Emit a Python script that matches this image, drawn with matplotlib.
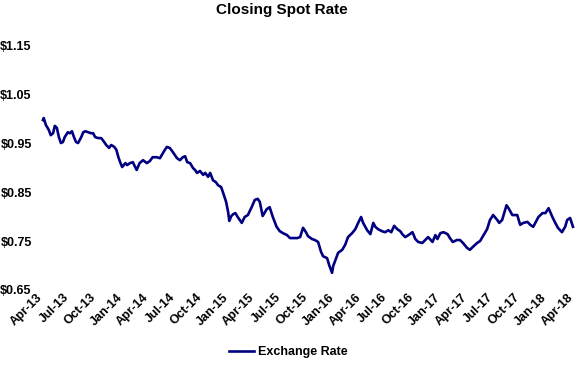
import matplotlib
matplotlib.use("Agg")
import matplotlib.pyplot as plt
import matplotlib.dates as mdates
import matplotlib.transforms as mtransforms
import pandas as pd

plt.rcParams['font.family'] = ['Liberation Sans', 'DejaVu Sans']
plt.rcParams['font.weight'] = 'bold'

# closing spot rate
dates = [
    "2013-04-30", "2013-05-03", "2013-05-10", "2013-05-20", "2013-05-27", "2013-06-04",
    "2013-06-10", "2013-06-17", "2013-06-24", "2013-07-01", "2013-07-08", "2013-07-14",
    "2013-07-25", "2013-08-01", "2013-08-08", "2013-08-15", "2013-08-22", "2013-08-29",
    "2013-09-09", "2013-09-16", "2013-09-23", "2013-10-03", "2013-10-13", "2013-10-20",
    "2013-10-27", "2013-11-07", "2013-11-17", "2013-11-27", "2013-12-04", "2013-12-14",
    "2013-12-21", "2014-01-01", "2014-01-08", "2014-01-15", "2014-01-21", "2014-01-28",
    "2014-02-08", "2014-02-14", "2014-02-24", "2014-03-06", "2014-03-12", "2014-03-19",
    "2014-03-29", "2014-04-10", "2014-04-23", "2014-05-03", "2014-05-13", "2014-05-27",
    "2014-06-07", "2014-06-14", "2014-06-24", "2014-07-01", "2014-07-11", "2014-07-21",
    "2014-08-05", "2014-08-15", "2014-08-25", "2014-09-02", "2014-09-09", "2014-09-19",
    "2014-09-29", "2014-10-06", "2014-10-13", "2014-10-23", "2014-11-03", "2014-11-10",
    "2014-11-20", "2014-11-27", "2014-12-07", "2014-12-17", "2014-12-24", "2015-01-04",
    "2015-01-11", "2015-01-21", "2015-01-28", "2015-02-01", "2015-02-08", "2015-02-15",
    "2015-02-22", "2015-03-02", "2015-03-16", "2015-03-26", "2015-04-06", "2015-04-19",
    "2015-04-30", "2015-05-10", "2015-05-17", "2015-05-27", "2015-06-10", "2015-06-20",
    "2015-07-01", "2015-07-14", "2015-07-25", "2015-08-05", "2015-08-19", "2015-08-29",
    "2015-09-09", "2015-09-23", "2015-10-03", "2015-10-13", "2015-10-23", "2015-10-30",
    "2015-11-13", "2015-11-23", "2015-12-04", "2015-12-14", "2015-12-21", "2016-01-04",
    "2016-01-11", "2016-01-21", "2016-01-25", "2016-02-04", "2016-02-11", "2016-02-25",
    "2016-03-06", "2016-03-16", "2016-03-30", "2016-04-10", "2016-04-20", "2016-04-30",
    "2016-05-07", "2016-05-21", "2016-06-01", "2016-06-11", "2016-06-18", "2016-06-28",
    "2016-07-11", "2016-07-22", "2016-08-02", "2016-08-12", "2016-08-22", "2016-09-02",
    "2016-09-12", "2016-09-19", "2016-09-29", "2016-10-10", "2016-10-24", "2016-11-03",
    "2016-11-13", "2016-11-27", "2016-12-07", "2016-12-17", "2017-01-01", "2017-01-11",
    "2017-01-18", "2017-01-28", "2017-02-08", "2017-02-22", "2017-03-02", "2017-03-12",
    "2017-03-26", "2017-04-06", "2017-04-16", "2017-04-30", "2017-05-10", "2017-05-20",
    "2017-06-04", "2017-06-14", "2017-06-24", "2017-07-08", "2017-07-18", "2017-07-29",
    "2017-08-12", "2017-08-19", "2017-08-29", "2017-09-06", "2017-09-13", "2017-09-20",
    "2017-10-03", "2017-10-20", "2017-10-30", "2017-11-10", "2017-11-24", "2017-12-04",
    "2017-12-14", "2018-01-01", "2018-01-15", "2018-01-25", "2018-02-05", "2018-02-18",
    "2018-02-28", "2018-03-09", "2018-03-23", "2018-04-03", "2018-04-10", "2018-04-20",
    "2018-04-30",
]
rates = [
    0.997, 1.001, 0.987, 0.977, 0.966, 0.970,
    0.985, 0.981, 0.962, 0.950, 0.952, 0.962,
    0.972, 0.970, 0.974, 0.962, 0.952, 0.950,
    0.962, 0.972, 0.974, 0.972, 0.970, 0.970,
    0.962, 0.960, 0.960, 0.952, 0.946, 0.940,
    0.946, 0.942, 0.936, 0.921, 0.911, 0.901,
    0.909, 0.905, 0.909, 0.911, 0.903, 0.895,
    0.909, 0.915, 0.909, 0.913, 0.921, 0.921,
    0.919, 0.926, 0.936, 0.942, 0.940, 0.932,
    0.919, 0.915, 0.921, 0.923, 0.911, 0.909,
    0.899, 0.895, 0.889, 0.893, 0.885, 0.889,
    0.881, 0.889, 0.874, 0.870, 0.864, 0.860,
    0.848, 0.830, 0.809, 0.791, 0.801, 0.805,
    0.807, 0.799, 0.787, 0.799, 0.803, 0.819,
    0.834, 0.836, 0.830, 0.801, 0.815, 0.819,
    0.799, 0.779, 0.770, 0.766, 0.762, 0.756,
    0.756, 0.756, 0.758, 0.777, 0.768, 0.760,
    0.754, 0.752, 0.748, 0.728, 0.719, 0.715,
    0.701, 0.685, 0.699, 0.715, 0.726, 0.732,
    0.742, 0.758, 0.766, 0.774, 0.787, 0.799,
    0.787, 0.772, 0.764, 0.787, 0.779, 0.774,
    0.770, 0.768, 0.772, 0.768, 0.781, 0.774,
    0.770, 0.764, 0.758, 0.762, 0.768, 0.754,
    0.748, 0.746, 0.752, 0.758, 0.748, 0.762,
    0.754, 0.766, 0.768, 0.764, 0.756, 0.748,
    0.752, 0.752, 0.746, 0.736, 0.732, 0.738,
    0.746, 0.750, 0.760, 0.774, 0.793, 0.803,
    0.793, 0.787, 0.793, 0.809, 0.823, 0.817,
    0.803, 0.803, 0.783, 0.787, 0.789, 0.783,
    0.779, 0.799, 0.807, 0.807, 0.817, 0.799,
    0.787, 0.777, 0.768, 0.779, 0.793, 0.797,
    0.779,
]
y_ticks = [0.65, 0.75, 0.85, 0.95, 1.05, 1.15]

fig = plt.figure(figsize=(5.76, 3.74), dpi=100)
ax = fig.add_axes([0.0599, 0.2246, 0.9384, 0.655])

ax.plot(pd.to_datetime(dates), rates, color='#000080', linewidth=1.9, label='Exchange Rate')

ax.set_xlim(pd.Timestamp("2013-04-01"), pd.Timestamp("2018-05-07"))
ax.set_ylim(0.65, 1.15)
ax.set_yticks(y_ticks)
ax.set_yticklabels([f"${v:.2f}" for v in y_ticks], fontsize=9, fontweight='bold')

ax.xaxis.set_major_locator(mdates.MonthLocator(bymonth=[1, 4, 7, 10]))
ax.xaxis.set_major_formatter(mdates.DateFormatter('%b-%y'))
ax.tick_params(axis='both', length=0)
ax.tick_params(axis='y', pad=2)
ax.tick_params(axis='x', pad=1)

shift = mtransforms.ScaledTranslation(1.5 / 72, 0, fig.dpi_scale_trans)
for lbl in ax.get_xticklabels():
    lbl.set_rotation(45)
    lbl.set_ha('right')
    lbl.set_va('top')
    lbl.set_rotation_mode('anchor')
    lbl.set_fontsize(9)
    lbl.set_fontweight('bold')
    lbl.set_transform(lbl.get_transform() + shift)

for s in ax.spines.values():
    s.set_visible(False)

fig.text(0.49, 1 - 10 / 374, 'Closing Spot Rate', ha='center', va='center',
         fontsize=11, fontweight='bold')

fig.legend(loc='center', bbox_to_anchor=(0.5, 0.059), frameon=False,
           prop={'size': 9, 'weight': 'bold'}, handlelength=2.0, handletextpad=0.3)

fig.savefig('out.png', dpi=100)
